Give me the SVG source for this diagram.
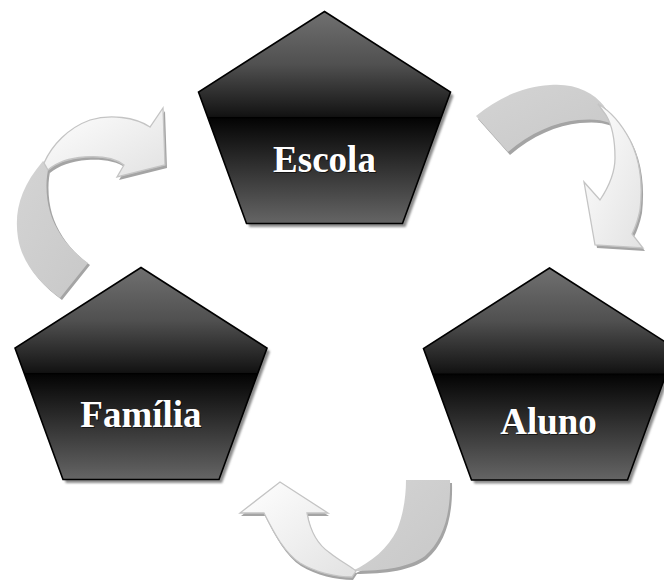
<svg xmlns="http://www.w3.org/2000/svg" width="664" height="581" viewBox="0 0 664 581">
<defs>
<linearGradient id="pg" x1="0" y1="0" x2="0" y2="1">
<stop offset="0" stop-color="#707070"/>
<stop offset="0.25" stop-color="#505050"/>
<stop offset="0.45" stop-color="#1e1e1e"/>
<stop offset="0.495" stop-color="#121212"/>
<stop offset="0.5" stop-color="#000"/>
<stop offset="0.51" stop-color="#050505"/>
<stop offset="0.7" stop-color="#2a2a2a"/>
<stop offset="1" stop-color="#656565"/>
</linearGradient>
<linearGradient id="wg" x1="0" y1="0" x2="1" y2="1">
<stop offset="0" stop-color="#ffffff"/>
<stop offset="1" stop-color="#e2e2e2"/>
</linearGradient>
<linearGradient id="gg" x1="0" y1="0" x2="1" y2="1">
<stop offset="0" stop-color="#d4d4d4"/>
<stop offset="1" stop-color="#c8c8c8"/>
</linearGradient>
<filter id="blur" x="-10%" y="-10%" width="120%" height="120%">
<feGaussianBlur stdDeviation="1"/>
</filter>
<path id="pent" d="M0,0 L126,80.5 L78,212 L-78,212 L-126,80.5 Z"/>
<style>
.ps{fill:#8c8c8c;filter:url(#blur)}
.pb{fill:url(#pg);stroke:#000;stroke-width:1.6;stroke-linejoin:miter}
.lbl{font-family:"Liberation Serif","Times New Roman",serif;font-weight:bold;font-size:37px;fill:#fff;text-anchor:middle}
.lsh{font-family:"Liberation Serif","Times New Roman",serif;font-weight:bold;font-size:37px;fill:#000;text-anchor:middle;opacity:0.6}
.gray{fill:url(#gg)}
.wht{fill:url(#wg);stroke:#c4c4c4;stroke-width:1.3;stroke-linejoin:miter}
.sh{fill:#a4a4a4}
</style>
</defs>
<rect width="664" height="581" fill="#fff"/>
<g id="connectors">
<g id="arrow-escola-aluno">
<path class="sh" transform="translate(2,3)" d="M476,116 C497,99 520,87 550,85 C575,83 593,92 604,106 L610,123 C600,119 590,119 578,120 C555,122 530,133 508,152 Z"/>
<path class="gray" d="M476,116 C497,99 520,87 550,85 C575,83 593,92 604,106 L610,123 C600,119 590,119 578,120 C555,122 530,133 508,152 Z"/>
<path class="sh" transform="translate(2,3)" d="M598,104 C612,112 622,125 630,140 C640,160 643,185 640,210 C638,220 635,228 632,234 L643,248 L595,245 L584,182 L600,200 C608,188 615,172 615,158 C615,140 612,125 606,115 Z"/>
<path class="wht" d="M598,104 C612,112 622,125 630,140 C640,160 643,185 640,210 C638,220 635,228 632,234 L643,248 L595,245 L584,182 L600,200 C608,188 615,172 615,158 C615,140 612,125 606,115 Z"/>
</g>
<g id="arrow-familia-escola">
<path class="sh" transform="translate(2,2)" d="M60,298 C38,282 22,262 18,238 C14,212 20,188 43,161 L49,166 C45,180 46,198 50,212 C56,232 70,250 88,263 Z"/>
<path class="gray" d="M60,298 C38,282 22,262 18,238 C14,212 20,188 43,161 L49,166 C45,180 46,198 50,212 C56,232 70,250 88,263 Z"/>
<path class="sh" transform="translate(2,3)" d="M44,163 C52,145 68,128 90,120 C110,114 135,117 150,127 L163,108 L165,165 L117,177 L124,165 C115,158 100,156 85,157 C70,158 56,163 48,170 Z"/>
<path class="wht" d="M44,163 C52,145 68,128 90,120 C110,114 135,117 150,127 L163,108 L165,165 L117,177 L124,165 C115,158 100,156 85,157 C70,158 56,163 48,170 Z"/>
</g>
<g id="arrow-aluno-familia">
<path class="sh" transform="translate(2,3)" d="M406,480 L450,480 C451,515 443,540 425,556 C410,567 385,571 352,571 C372,562 388,548 397,530 C403,515 406,498 406,480 Z"/>
<path class="gray" d="M406,480 L450,480 C451,515 443,540 425,556 C410,567 385,571 352,571 C372,562 388,548 397,530 C403,515 406,498 406,480 Z"/>
<path class="sh" transform="translate(1,3)" d="M280,482 L328,513 L307,513 C310,530 318,545 330,553 C340,561 350,566 356,571 L352,577 C335,577 315,572 300,563 C285,553 275,535 264,513 L240,513 Z"/>
<path class="wht" d="M280,482 L328,513 L307,513 C310,530 318,545 330,553 C340,561 350,566 356,571 L352,577 C335,577 315,572 300,563 C285,553 275,535 264,513 L240,513 Z"/>
</g>
</g>
<g id="node-escola">
<use href="#pent" class="ps" transform="translate(327.5,15)"/>
<use href="#pent" class="pb" transform="translate(324.5,11.5)"/>
<text class="lsh" x="325.5" y="173">Escola</text>
<text class="lbl" x="324.5" y="172">Escola</text>
</g>
<g id="node-familia">
<use href="#pent" class="ps" transform="translate(144,271)"/>
<use href="#pent" class="pb" transform="translate(141,267.5)"/>
<text class="lsh" x="142" y="428">Família</text>
<text class="lbl" x="141" y="427">Família</text>
</g>
<g id="node-aluno">
<use href="#pent" class="ps" transform="translate(552.5,271.5)"/>
<use href="#pent" class="pb" transform="translate(549.5,268)"/>
<text class="lsh" x="549.5" y="435">Aluno</text>
<text class="lbl" x="548.5" y="434">Aluno</text>
</g>
</svg>
